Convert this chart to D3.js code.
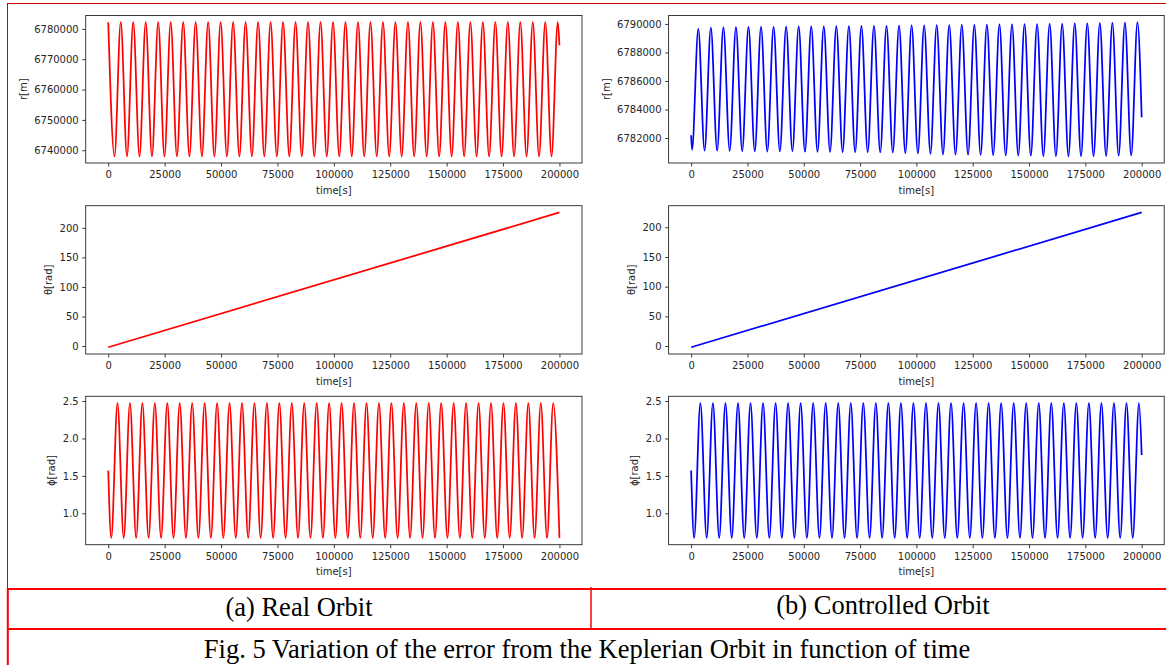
<!DOCTYPE html>
<html><head><meta charset="utf-8">
<script src="https://cdn.jsdelivr.net/npm/d3@7"></script>
<style>body{margin:0;background:#fff} svg{display:block}</style>
</head><body>
<svg id="c" width="1166" height="665"></svg>
<script>
// ---------- tick labels ----------
const xTicks = [0, 25000, 50000, 75000, 100000, 125000, 150000, 175000, 200000];
const rRealTicks = [6740000, 6750000, 6760000, 6770000, 6780000];
const rCtrlTicks = [6782000, 6784000, 6786000, 6788000, 6790000];
const thetaTicks = [0, 50, 100, 150, 200];
const phiTicks = [1.0, 1.5, 2.0, 2.5];

// ---------- series: [time s, value] at start, every extremum, and end ----------
const rReal = [[0,6782200],[2767,6738000],[5535,6782200],[8302,6738000],[11070,6782200],[13837,6738000],[16605,6782200],[19372,6738000],[22140,6782200],[24907,6738000],[27675,6782200],[30442,6738000],[33210,6782200],[35977,6738000],[38745,6782200],[41512,6738000],[44280,6782200],[47047,6738000],[49815,6782200],[52582,6738000],[55350,6782200],[58117,6738000],[60885,6782200],[63652,6738000],[66420,6782200],[69187,6738000],[71955,6782200],[74722,6738000],[77490,6782200],[80257,6738000],[83025,6782200],[85792,6738000],[88560,6782200],[91327,6738000],[94095,6782200],[96862,6738000],[99630,6782200],[102397,6738000],[105165,6782200],[107932,6738000],[110700,6782200],[113467,6738000],[116235,6782200],[119002,6738000],[121770,6782200],[124537,6738000],[127305,6782200],[130072,6738000],[132840,6782200],[135607,6738000],[138375,6782200],[141142,6738000],[143910,6782200],[146677,6738000],[149445,6782200],[152212,6738000],[154980,6782200],[157747,6738000],[160515,6782200],[163282,6738000],[166050,6782200],[168817,6738000],[171585,6782200],[174352,6738000],[177120,6782200],[179887,6738000],[182655,6782200],[185422,6738000],[188190,6782200],[190957,6738000],[193725,6782200],[196492,6738000],[199260,6782200],[200000,6774600]];

const thetaReal = [[0,-2],[200000,226]];

const phiReal = [[0,1.572],[1330,0.671],[4090,2.473],[6849,0.671],[9609,2.473],[12368,0.671],[15128,2.473],[17887,0.671],[20647,2.473],[23406,0.671],[26166,2.473],[28925,0.671],[31685,2.473],[34444,0.671],[37204,2.473],[39963,0.671],[42723,2.473],[45482,0.671],[48242,2.473],[51001,0.671],[53761,2.473],[56520,0.671],[59280,2.473],[62039,0.671],[64799,2.473],[67558,0.671],[70318,2.473],[73077,0.671],[75837,2.473],[78596,0.671],[81356,2.473],[84115,0.671],[86875,2.473],[89634,0.671],[92394,2.473],[95153,0.671],[97913,2.473],[100672,0.671],[103432,2.473],[106191,0.671],[108951,2.473],[111710,0.671],[114470,2.473],[117229,0.671],[119989,2.473],[122748,0.671],[125508,2.473],[128267,0.671],[131027,2.473],[133786,0.671],[136546,2.473],[139305,0.671],[142065,2.473],[144824,0.671],[147584,2.473],[150343,0.671],[153103,2.473],[155862,0.671],[158622,2.473],[161381,0.671],[164141,2.473],[166900,0.671],[169660,2.473],[172419,0.671],[175179,2.473],[177938,0.671],[180698,2.473],[183457,0.671],[186217,2.473],[188976,0.671],[191736,2.473],[194495,0.671],[197255,2.473],[200000,0.672]];

const rCtrl = [[0,6782190],
[400,6781180],[3185,6789650],[5970,6781120],[8755,6789740],[11540,6781110],[14325,6789760],
[17110,6781100],[19895,6789780],[22680,6781090],[25465,6789790],[28250,6781070],[31035,6789790],
[33820,6781050],[36605,6789800],[39390,6781060],[42175,6789810],[44960,6781070],[47745,6789820],
[50530,6781040],[53315,6789820],[56100,6781030],[58885,6789830],[61670,6781030],[64455,6789840],
[67240,6781020],[70025,6789850],[72810,6781010],[75595,6789860],[78380,6781000],[81165,6789860],
[83950,6780990],[86735,6789870],[89520,6780990],[92305,6789880],[95090,6780950],[97875,6789890],
[100660,6780920],[103445,6789900],[106230,6780890],[109015,6789910],[111800,6780860],[114585,6789920],
[117370,6780840],[120155,6789930],[122940,6780830],[125725,6789940],[128510,6780820],[131295,6789950],
[134080,6780800],[136865,6789960],[139650,6780780],[142435,6789970],[145220,6780770],[148005,6789980],
[150790,6780760],[153575,6789990],[156360,6780740],[159145,6790000],[161930,6780730],[164715,6790010],
[167500,6780720],[170285,6790030],[173070,6780720],[175855,6790040],[178640,6780730],[181425,6790060],
[184210,6780740],[186995,6790080],[189780,6780760],[192565,6790090],[195350,6780770],[198135,6790120],
[200000,6783450]];

const thetaCtrl = [[0,-2],[200000,225]];

const phiCtrl = [[0,1.572],
[1330,0.671],[4112,2.473],[6893,0.671],[9675,2.473],[12456,0.671],[15238,2.473],
[18019,0.671],[20801,2.473],[23582,0.671],[26364,2.473],[29145,0.671],[31927,2.473],
[34708,0.671],[37490,2.473],[40271,0.671],[43053,2.473],[45834,0.671],[48616,2.473],
[51397,0.671],[54179,2.473],[56960,0.671],[59742,2.473],[62523,0.671],[65305,2.473],
[68086,0.671],[70868,2.473],[73649,0.671],[76431,2.473],[79212,0.671],[81994,2.473],
[84775,0.671],[87557,2.473],[90338,0.671],[93120,2.473],[95901,0.671],[98683,2.473],
[101464,0.671],[104246,2.473],[107027,0.671],[109809,2.473],[112590,0.671],[115372,2.473],
[118153,0.671],[120935,2.473],[123716,0.671],[126498,2.473],[129279,0.671],[132061,2.473],
[134842,0.671],[137624,2.473],[140405,0.671],[143187,2.473],[145968,0.671],[148750,2.473],
[151531,0.671],[154313,2.473],[157094,0.671],[159876,2.473],[162657,0.671],[165439,2.473],
[168220,0.671],[171002,2.473],[173783,0.671],[176565,2.473],[179346,0.671],[182128,2.473],
[184909,0.671],[187691,2.473],[190472,0.671],[193254,2.473],[196035,0.671],[198817,2.473],
[200000,1.78]];

const xLabel = 'time[s]';
const captionA = '(a) Real Orbit';
const captionB = '(b) Controlled Orbit';
const captionFig = 'Fig. 5 Variation of the error from the Keplerian Orbit in function of time';

// ---------- layout ----------
const svg = d3.select('#c');
svg.append('rect').attr('width',1166).attr('height',665).attr('fill','#fff');

const cols = [{x0:85.7, x1:582}, {x0:668.6, x1:1164.2}];
const rows = [{y0:15.5, y1:163}, {y0:205.7, y1:354}, {y0:396.3, y1:544.7}];
const RED = '#ff0000', BLUE = '#0000ff', INK = '#262626';

const panels = [
  {c:0, r:0, data:rReal,     ticks:rRealTicks, fmt:d3.format('d'),   label:'r[m]',   color:RED},
  {c:0, r:1, data:thetaReal, ticks:thetaTicks, fmt:d3.format('d'),   label:'θ[rad]', color:RED},
  {c:0, r:2, data:phiReal,   ticks:phiTicks,   fmt:d3.format('.1f'), label:'ϕ[rad]', color:RED},
  {c:1, r:0, data:rCtrl,     ticks:rCtrlTicks, fmt:d3.format('d'),   label:'r[m]',   color:BLUE},
  {c:1, r:1, data:thetaCtrl, ticks:thetaTicks, fmt:d3.format('d'),   label:'θ[rad]', color:BLUE},
  {c:1, r:2, data:phiCtrl,   ticks:phiTicks,   fmt:d3.format('.1f'), label:'ϕ[rad]', color:BLUE}
];

panels.forEach(p => {
  const C = cols[p.c], R = rows[p.r];
  const x = d3.scaleLinear().domain([-10000, 210000]).range([C.x0, C.x1]);
  const ext = d3.extent(p.data, d => d[1]);
  const pad = (ext[1] - ext[0]) * 0.05;
  const y = d3.scaleLinear().domain([ext[0] - pad, ext[1] + pad]).range([R.y1, R.y0]);
  const g = svg.append('g');

  g.append('path').datum(p.data)
    .attr('d', d3.line().x(d => x(d[0])).y(d => y(d[1])).curve(d3.curveMonotoneX))
    .attr('fill','none').attr('stroke',p.color).attr('stroke-width',1.75)
    .attr('stroke-linejoin','round');

  g.append('rect').attr('x',C.x0).attr('y',R.y0)
    .attr('width',C.x1-C.x0).attr('height',R.y1-R.y0)
    .attr('fill','none').attr('stroke',INK).attr('stroke-width',0.9);

  const xa = g.append('g').attr('transform',`translate(0,${R.y1})`)
    .call(d3.axisBottom(x).tickValues(xTicks).tickFormat(d3.format('d')).tickSize(3.5).tickPadding(4.5));
  const ya = g.append('g').attr('transform',`translate(${C.x0},0)`)
    .call(d3.axisLeft(y).tickValues(p.ticks).tickFormat(p.fmt).tickSize(3.5).tickPadding(3.5));
  [xa, ya].forEach(a => {
    a.select('.domain').remove();
    a.attr('font-family','DejaVu Sans').attr('font-size',10);
    a.selectAll('line').attr('stroke',INK).attr('stroke-width',0.9);
    a.selectAll('text').attr('fill',INK);
  });

  g.append('text').attr('x',(C.x0+C.x1)/2).attr('y',R.y1+30.5)
    .attr('text-anchor','middle').attr('font-family','DejaVu Sans').attr('font-size',10)
    .attr('fill',INK).text(xLabel);

  const bb = ya.node().getBBox();
  const lx = C.x0 + bb.x - 11;
  g.append('text').attr('transform',`translate(${lx},${(R.y0+R.y1)/2}) rotate(-90)`)
    .attr('text-anchor','middle').attr('dy','0.35em')
    .attr('font-family','DejaVu Sans').attr('font-size',10).attr('fill',INK).text(p.label);
});

// ---------- table frame ----------
const T = svg.append('g');
T.append('line').attr('x1',7).attr('x2',1166).attr('y1',3.5).attr('y2',3.5).attr('stroke','#d40000').attr('stroke-width',1);
T.append('line').attr('x1',7.5).attr('x2',7.5).attr('y1',3).attr('y2',589).attr('stroke','#d40000').attr('stroke-width',1);
T.append('line').attr('x1',7.8).attr('x2',7.8).attr('y1',588).attr('y2',665).attr('stroke',RED).attr('stroke-width',2);
T.append('line').attr('x1',7).attr('x2',1166).attr('y1',589).attr('y2',589).attr('stroke',RED).attr('stroke-width',2);
T.append('line').attr('x1',7).attr('x2',1166).attr('y1',629).attr('y2',629).attr('stroke',RED).attr('stroke-width',2);
T.append('line').attr('x1',591).attr('x2',591).attr('y1',587).attr('y2',629).attr('stroke',RED).attr('stroke-width',1.5);

const serif = 'Liberation Serif, Times New Roman, serif';
T.append('text').attr('x',299).attr('y',616).attr('text-anchor','middle')
  .attr('font-family',serif).attr('font-size',26.5).attr('fill','#000').text(captionA);
T.append('text').attr('x',883).attr('y',614).attr('text-anchor','middle')
  .attr('font-family',serif).attr('font-size',26.5).attr('fill','#000').text(captionB);
T.append('text').attr('x',587).attr('y',658).attr('text-anchor','middle')
  .attr('font-family',serif).attr('font-size',26.5).attr('fill','#000').text(captionFig);
</script>
</body></html>
